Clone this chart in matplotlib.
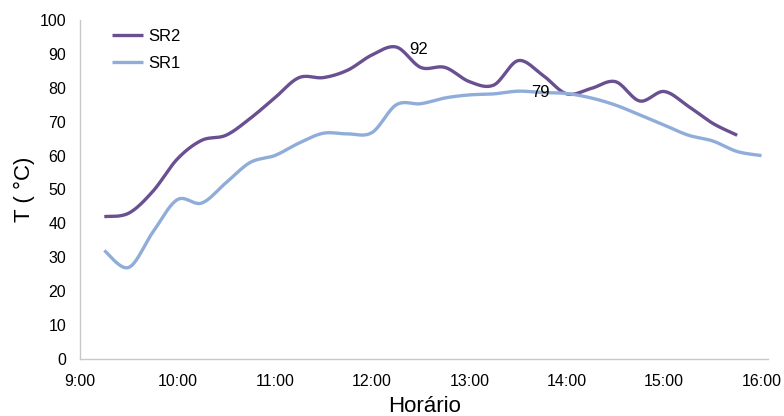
import numpy as np
import matplotlib
matplotlib.use("Agg")
import matplotlib.pyplot as plt

plt.rcParams['font.family'] = ['Liberation Sans', 'DejaVu Sans']

# Readings every 15 minutes (hours as decimals)
times_sr2 = [9.25, 9.5, 9.75, 10.0, 10.25, 10.5, 10.75, 11.0, 11.25, 11.5, 11.75,
             12.0, 12.25, 12.5, 12.75, 13.0, 13.25, 13.5, 13.75, 14.0, 14.25,
             14.5, 14.75, 15.0, 15.25, 15.5, 15.75]
sr2 = [42, 43, 49.5, 59, 64.5, 66, 71, 77, 83, 83, 85.2,
       89.7, 92, 86, 86, 81.8, 80.8, 88, 83.8, 78.2, 79.8,
       81.8, 76.1, 78.9, 74.5, 69.5, 66]

times_sr1 = [9.25, 9.5, 9.75, 10.0, 10.25, 10.5, 10.75, 11.0, 11.25, 11.5, 11.75,
             12.0, 12.25, 12.5, 12.75, 13.0, 13.25, 13.5, 13.75, 14.0, 14.25,
             14.5, 14.75, 15.0, 15.25, 15.5, 15.75, 16.0]
sr1 = [32, 27, 37.5, 47, 46, 52, 58, 60, 63.7, 66.6, 66.4,
       66.8, 75, 75.3, 77, 77.9, 78.2, 79, 78.6, 78.3, 77,
       74.9, 72, 69, 66, 64.3, 61.2, 60]

tick_hours = [9, 10, 11, 12, 13, 14, 15, 16]
tick_labels = ["9:00", "10:00", "11:00", "12:00", "13:00", "14:00", "15:00", "16:00"]

peak_sr2 = (12.25, 92)
peak_sr1 = (13.5, 79)


def smooth(x, y, n=20):
    """Catmull-Rom style smoothing through every point."""
    x = np.asarray(x, float)
    y = np.asarray(y, float)
    px = np.concatenate([[x[0]], x, [x[-1]]])
    py = np.concatenate([[y[0]], y, [y[-1]]])
    xs, ys = [], []
    for i in range(1, len(px) - 2):
        p0 = np.array([px[i - 1], py[i - 1]])
        p1 = np.array([px[i], py[i]])
        p2 = np.array([px[i + 1], py[i + 1]])
        p3 = np.array([px[i + 2], py[i + 2]])
        c1 = p1 + (p2 - p0) / 6.0
        c2 = p2 - (p3 - p1) / 6.0
        t = np.linspace(0, 1, n, endpoint=False)[:, None]
        pts = ((1 - t) ** 3) * p1 + 3 * ((1 - t) ** 2) * t * c1 + 3 * (1 - t) * t ** 2 * c2 + t ** 3 * p2
        xs.append(pts[:, 0])
        ys.append(pts[:, 1])
    xs.append([x[-1]])
    ys.append([y[-1]])
    return np.concatenate(xs), np.concatenate(ys)


fig = plt.figure(figsize=(7.84, 4.16), dpi=100)
ax = fig.add_axes([0.102, 0.137, 0.878, 0.815])

c_sr2 = '#6a4f91'
c_sr1 = '#8fadd8'

sx, sy = smooth(times_sr2, sr2)
ax.plot(sx, sy, color=c_sr2, lw=2.4, label='SR2', solid_capstyle='butt')
sx, sy = smooth(times_sr1, sr1)
ax.plot(sx, sy, color=c_sr1, lw=2.4, label='SR1', solid_capstyle='butt')

ax.annotate(f"{peak_sr2[1]:g}", xy=peak_sr2, xytext=(13, -2), textcoords='offset pixels',
            ha='left', va='center', fontsize=12)
ax.annotate(f"{peak_sr1[1]:g}", xy=peak_sr1, xytext=(13, -1), textcoords='offset pixels',
            ha='left', va='center', fontsize=12)

ax.set_xlim(9, 16.07)
ax.set_ylim(0, 100)
ax.set_xticks(tick_hours)
ax.set_xticklabels(tick_labels)
ax.set_yticks(range(0, 101, 10))
ax.tick_params(axis='both', length=0, labelsize=11.5)
ax.tick_params(axis='x', pad=11)
ax.tick_params(axis='y', pad=10)

for side in ('top', 'right'):
    ax.spines[side].set_visible(False)
for side in ('left', 'bottom'):
    ax.spines[side].set_color('#c8c8c8')
    ax.spines[side].set_linewidth(1.0)

ax.set_xlabel('Horário', fontsize=16, labelpad=5)
ax.set_ylabel('T ( °C)', fontsize=16, labelpad=3)

ax.legend(loc='upper left', bbox_to_anchor=(0.025, 1.018), frameon=False, fontsize=12,
          handlelength=1.85, handletextpad=0.3, labelspacing=0.72)

fig.savefig('out.png', dpi=100)
